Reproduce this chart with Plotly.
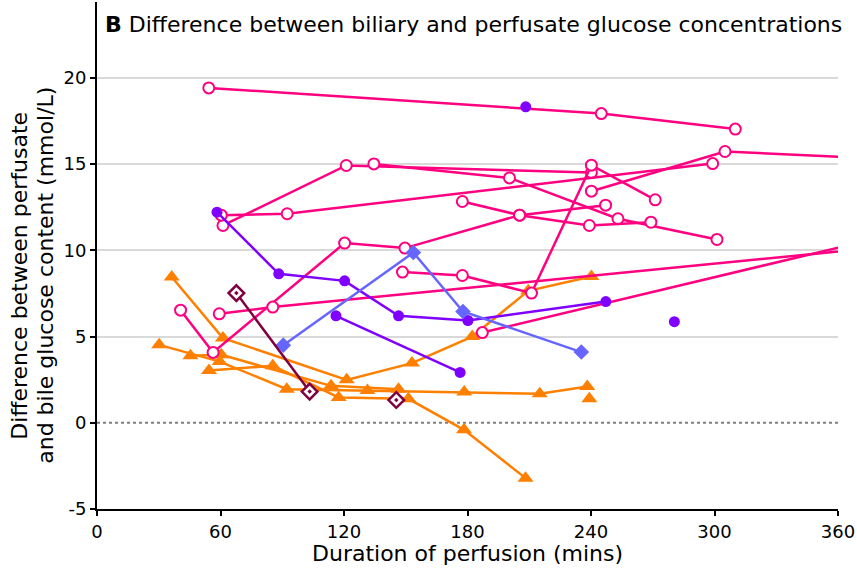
import plotly.graph_objects as go

# Colours for each group of perfusions
PINK = "#FF0080"
PURPLE = "#7F00FF"
BLUE = "#6666FF"
ORANGE = "#FF8000"
MAROON = "#800040"

# ---- time (mins) and glucose difference (mmol/L) per perfusion ----
# pink group, open circles
pink1_t = [54.3, 245.0, 310.1]
pink1_v = [19.42, 17.93, 17.03]
pink2_t = [61.2, 121.1, 240.2]
pink2_v = [11.44, 14.92, 14.51]
pink3_t = [60.4, 92.4, 299.1]
pink3_v = [12.04, 12.12, 15.03]
pink4_t = [148.4, 177.5, 211.1, 240.2, 271.2]
pink4_v = [8.74, 8.54, 7.52, 14.94, 12.93]
pink5_t = [134.5, 200.4, 253.1, 301.2]
pink5_v = [15.01, 14.20, 11.83, 10.63]
pink6_t = [177.5, 205.3, 239.2, 269.1]
pink6_v = [12.83, 12.04, 11.44, 11.63]
pink7_t = [40.6, 56.4, 120.3, 149.6, 205.3, 247.1]
pink7_v = [6.53, 4.08, 10.42, 10.13, 12.04, 12.62]
pink8_t = [59.4, 85.4, 420.0]
pink8_v = [6.32, 6.71, 10.63]
pink9_t = [240.2, 305.1, 420.0]
pink9_v = [13.43, 15.73, 15.09]
pink10_t = [187.2, 420.0]
pink10_v = [5.23, 11.86]

# purple group, filled circles
purple1_t = [58.3, 88.3, 120.3, 146.5, 180.2, 247.2]
purple1_v = [12.21, 8.64, 8.23, 6.20, 5.93, 7.03]
purple2_t = [116.1, 176.4]
purple2_v = [6.20, 2.92]
purple3_t = [208.3]
purple3_v = [18.32]
purple4_t = [280.5]
purple4_v = [5.86]

# blue group, filled diamonds
blue1_t = [90.5, 153.7, 177.8, 235.3]
blue1_v = [4.50, 9.87, 6.45, 4.10]

# orange group, triangles
orange1_t = [36.3, 61.2, 121.3, 153.0, 182.3, 209.5, 240.2]
orange1_v = [8.45, 4.91, 2.49, 3.46, 5.00, 7.65, 8.48]
orange2_t = [30.2, 59.6, 92.2, 131.4, 178.4, 215.1, 238.2]
orange2_v = [4.52, 3.55, 1.95, 1.87, 1.78, 1.68, 2.10]
orange3_t = [45.4, 60.4, 113.7, 146.5]
orange3_v = [3.88, 3.94, 2.14, 1.95]
orange4_t = [54.4, 85.4, 117.4, 151.3, 178.3, 208.2]
orange4_v = [3.03, 3.30, 1.47, 1.39, -0.41, -3.21]
orange5_t = [239.2]
orange5_v = [1.39]

# maroon group, dotted diamonds
maroon1_t = [67.7, 103.3]
maroon1_v = [7.52, 1.81]
maroon2_t = [145.4]
maroon2_v = [1.32]

X_TICKS = [0, 60, 120, 180, 240, 300, 360]
Y_TICKS = [-5, 0, 5, 10, 15, 20]
Y_TICK_TEXT = ["-5", "0", "5", "10", "15", "20"]

FONT = "DejaVu Sans"

fig = go.Figure()


def add_series(t, v, color, symbol, size, fill, line_w=2.5, mline_w=2.0, mline_color=None):
    fig.add_trace(go.Scatter(
        x=t, y=v, mode="lines+markers",
        line=dict(color=color, width=line_w),
        marker=dict(symbol=symbol, size=size, color=fill,
                    line=dict(color=mline_color or color, width=mline_w)),
        showlegend=False, hoverinfo="x+y",
    ))


for t, v in [(orange1_t, orange1_v), (orange2_t, orange2_v), (orange3_t, orange3_v),
             (orange4_t, orange4_v), (orange5_t, orange5_v)]:
    add_series(t, v, ORANGE, "triangle-up", 14, ORANGE, mline_w=0)

for t, v in [(pink1_t, pink1_v), (pink2_t, pink2_v), (pink3_t, pink3_v), (pink4_t, pink4_v),
             (pink5_t, pink5_v), (pink6_t, pink6_v), (pink7_t, pink7_v), (pink8_t, pink8_v),
             (pink9_t, pink9_v), (pink10_t, pink10_v)]:
    add_series(t, v, PINK, "circle", 11, "white", mline_w=2)

for t, v in [(purple1_t, purple1_v), (purple2_t, purple2_v), (purple3_t, purple3_v),
             (purple4_t, purple4_v)]:
    add_series(t, v, PURPLE, "circle", 11, PURPLE, mline_w=0)

add_series(blue1_t, blue1_v, BLUE, "diamond", 12, BLUE, mline_w=0)

for t, v in [(maroon1_t, maroon1_v), (maroon2_t, maroon2_v)]:
    add_series(t, v, MAROON, "diamond-dot", 12, "white", mline_w=2.5)

# dotted reference line at zero difference
fig.add_shape(type="line", xref="paper", x0=0, x1=1, yref="y", y0=0, y1=0,
              line=dict(color="#7f7f7f", width=2, dash="dot"), layer="below")

fig.add_annotation(
    text="<b>B</b> Difference between biliary and perfusate glucose concentrations",
    xref="paper", yref="paper", x=0, y=1, xanchor="left", yanchor="top",
    xshift=6, yshift=-8, showarrow=False,
    font=dict(family=FONT, size=22, color="black"),
)
# two-line y-axis title, one annotation per line
for line_text, shift in [("Difference between perfusate", -77),
                         ("and bile glucose content (mmol/L)", -51)]:
    fig.add_annotation(
        text=line_text,
        xref="paper", yref="paper", x=0, y=0.46, xanchor="center", yanchor="middle",
        xshift=shift, textangle=-90, showarrow=False,
        font=dict(family=FONT, size=22, color="black"),
    )
fig.add_annotation(
    text="Duration of perfusion (mins)",
    xref="paper", yref="paper", x=0.5, y=0, xanchor="center", yanchor="middle",
    yshift=-44, showarrow=False,
    font=dict(family=FONT, size=22, color="black"),
)

fig.update_layout(
    width=857, height=574,
    margin=dict(l=97, r=16, t=2, b=65),
    paper_bgcolor="white", plot_bgcolor="white",
    font=dict(family=FONT, size=18, color="black"),
    xaxis=dict(range=[0, 360], tickvals=X_TICKS, showgrid=False, zeroline=False,
               showline=True, linecolor="black", linewidth=2,
               ticks="outside", ticklen=5, tickcolor="black", tickwidth=1.5,
               ticklabeloverflow="allow",
               tickfont=dict(family=FONT, size=18)),
    yaxis=dict(range=[-5, 24.4], tickvals=Y_TICKS, ticktext=Y_TICK_TEXT,
               showgrid=True, gridcolor="#d9d9d9",
               gridwidth=1.5, zeroline=True, zerolinecolor="rgba(0,0,0,0)",
               showline=True, linecolor="black", linewidth=2,
               ticks="outside", ticklen=5, tickcolor="black", tickwidth=1.5,
               tickfont=dict(family=FONT, size=18)),
)

fig.write_html("out.html")
